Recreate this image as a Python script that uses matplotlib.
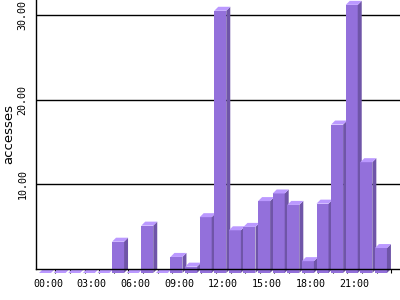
import matplotlib
matplotlib.use("Agg")
import matplotlib.pyplot as plt
from matplotlib.patches import Polygon

hours = list(range(24))
hour_labels = ["00:00", "03:00", "06:00", "09:00", "12:00", "15:00", "18:00", "21:00"]
accesses = [0, 0, 0, 0, 0, 3.7, 0, 5.6, 0, 1.9, 0.75, 6.6,
            31.0, 5.05, 5.45, 8.5, 9.4, 8.05, 1.4, 8.2, 17.55, 31.7, 13.1, 2.95]

FRONT = "#9370db"
SIDE = "#6f55a8"
TOP = "#bb99ff"

fig = plt.figure(figsize=(4, 3), dpi=100)
ax = fig.add_axes([36 / 400, 31 / 300, 364 / 400, 269 / 300])

px_x = 1 / 14.6          # one pixel in hours
px_y = 31.8 / 269        # one pixel in accesses
dx, dy = 4 * px_x, 4 * px_y

ax.set_xlim(-12 * px_x, 24.1)
ax.set_ylim(0, 31.8)

for g in [10, 20, 30]:
    ax.axhline(g, color="black", lw=1, zorder=1)

for h, v in zip(hours, accesses):
    l = h - 9 * px_x
    r = h + 3 * px_x
    b = -dy
    t = v - dy
    front = Polygon([(l, b), (r, b), (r, t), (l, t)], closed=True,
                    facecolor=FRONT, edgecolor="none", zorder=3, clip_on=False)
    side = Polygon([(r, b), (r + dx, b + dy), (r + dx, t + dy), (r, t)], closed=True,
                   facecolor=SIDE, edgecolor="none", zorder=3, clip_on=False)
    top = Polygon([(l, t), (r, t), (r + dx, t + dy), (l + dx, t + dy)], closed=True,
                  facecolor=TOP, edgecolor="none", zorder=3, clip_on=False)
    for p in (front, side, top):
        ax.add_patch(p)

for s in ["top", "right"]:
    ax.spines[s].set_visible(False)
ax.spines["left"].set_linewidth(1)
ax.spines["bottom"].set_linewidth(1)
ax.spines["bottom"].set_zorder(4)

mono = "DejaVu Sans Mono"
ax.set_xticks(range(0, 24, 3))
ax.set_xticklabels(hour_labels, fontsize=7.2, family=mono)
ax.set_xticks([h + 0.5 for h in hours], minor=True)
ax.tick_params(axis="x", which="major", length=0, pad=7)
ax.tick_params(axis="x", which="minor", length=3, width=0.8, direction="out")

ax.set_yticks([10, 20, 30])
ax.set_yticklabels(["10.00", "20.00", "30.00"], fontsize=7.2, family=mono,
                   rotation=90, va="center")
ax.tick_params(axis="y", length=0, pad=6)
ax.set_ylabel("accesses", fontsize=9.5, family="DejaVu Sans", labelpad=2)

fig.savefig("out.png", dpi=100)
